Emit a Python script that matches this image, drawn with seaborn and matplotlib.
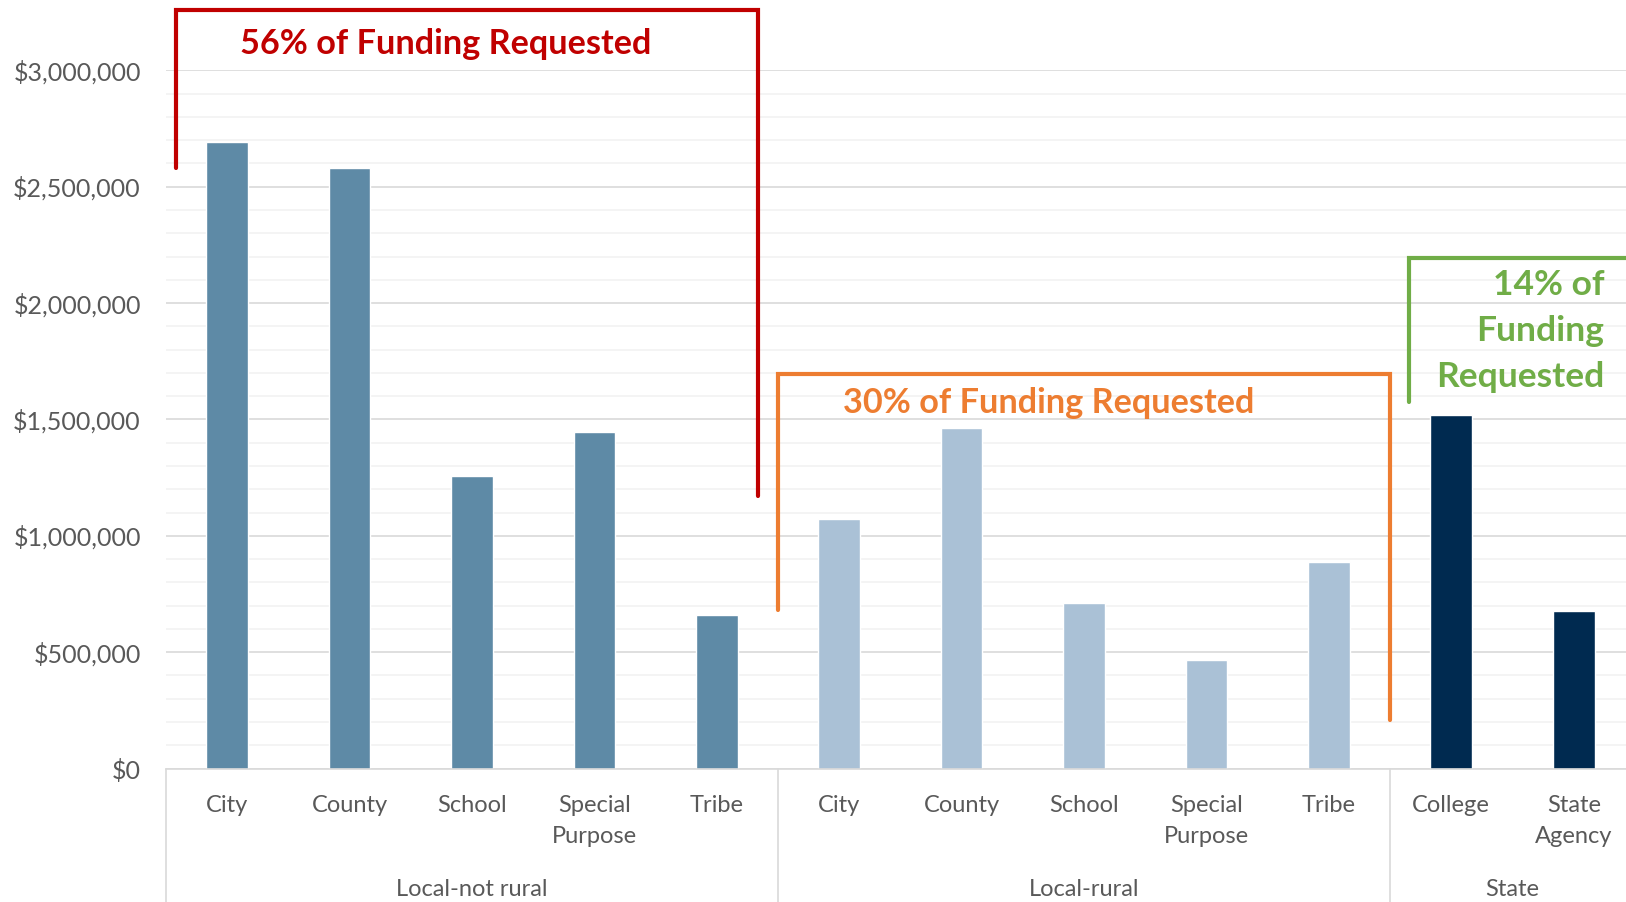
"""
Funding requested by applicant type
"""
import matplotlib.pyplot as plt
import matplotlib.transforms as mtransforms
import seaborn as sns
import pandas as pd
from matplotlib.ticker import MultipleLocator, FuncFormatter

# data
groups = ["Local-not rural"] * 5 + ["Local-rural"] * 5 + ["State"] * 2
categories = ["City", "County", "School", "Special\nPurpose", "Tribe",
              "City", "County", "School", "Special\nPurpose", "Tribe",
              "College", "State\nAgency"]
funding = [2690000, 2580000, 1257000, 1445000, 660000,
           1070000, 1462000, 713000, 468000, 887000,
           1517000, 678000]
group_names = ["Local-not rural", "Local-rural", "State"]
group_colors = {"Local-not rural": "#5E8AA6", "Local-rural": "#AAC1D6", "State": "#002A50"}

df = pd.DataFrame({"group": groups, "category": categories, "funding": funding})
df["key"] = [f"{g}|{c}" for g, c in zip(groups, categories)]

sns.set_style("white")
plt.rcParams["font.family"] = ["Lato", "DejaVu Sans"]

fig = plt.figure(figsize=(16.26, 9.02), dpi=100)
# plot area runs a little past the right edge, as in the original
ax = fig.add_axes([0.102, 0.148, 0.9035, 0.774])

sns.barplot(data=df, x="key", y="funding", hue="group", palette=group_colors,
            order=list(df["key"]), dodge=False, width=0.34, legend=False,
            saturation=1, ax=ax)

ax.set_xlim(-0.5, 11.5)
ax.set_ylim(0, 3000000)
ax.yaxis.set_major_locator(MultipleLocator(500000))
ax.yaxis.set_minor_locator(MultipleLocator(100000))
ax.yaxis.set_major_formatter(FuncFormatter(lambda v, p: f"${v:,.0f}"))
ax.grid(which="major", axis="y", color="#D9D9D9", lw=1.2)
ax.grid(which="minor", axis="y", color="#F2F2F2", lw=1.2)
ax.set_axisbelow(True)
for s in ["top", "right", "left"]:
    ax.spines[s].set_visible(False)
ax.spines["bottom"].set_color("#D9D9D9")
ax.spines["bottom"].set_linewidth(1.2)
ax.tick_params(axis="y", which="both", length=0, pad=18, labelsize=18, labelcolor="#595959")
ax.set_xticks(range(len(categories)))
ax.set_xticklabels(categories, fontsize=17, color="#595959", linespacing=1.6)
ax.tick_params(axis="x", length=0, pad=19)
ax.set_xlabel("")
ax.set_ylabel("")

# group labels and separators under the axis
trans = mtransforms.blended_transform_factory(ax.transData, ax.transAxes)
for g in group_names:
    idx = [i for i, x in enumerate(groups) if x == g]
    ax.text((idx[0] + idx[-1]) / 2, -0.173, g, transform=trans, ha="center", va="center",
            fontsize=17, color="#595959")
for xs in [-0.5, 4.5, 9.5]:
    ax.plot([xs, xs], [0, -0.2], transform=trans, color="#D9D9D9", lw=1.2, clip_on=False)

# brackets with funding shares
ax.plot([-0.415, -0.415, 4.335, 4.335], [2581000, 3258000, 3258000, 1172000],
        color="#C00000", lw=3, clip_on=False, solid_joinstyle="miter")
ax.text(1.786, 3115000, "56% of Funding Requested", ha="center", va="center",
        fontsize=24.7, fontweight="bold", color="#C00000")
ax.plot([4.504, 4.504, 9.5, 9.5], [682000, 1694000, 1694000, 209000],
        color="#ED7D31", lw=3, clip_on=False, solid_joinstyle="miter")
ax.text(6.714, 1570000, "30% of Funding Requested", ha="center", va="center",
        fontsize=24.7, fontweight="bold", color="#ED7D31")
ax.plot([9.652, 9.652, 11.6], [1574000, 2193000, 2193000],
        color="#70AD47", lw=3, clip_on=False, solid_joinstyle="miter")
ax.text(11.25, 1880000, "14% of\nFunding\nRequested", ha="right", va="center",
        fontsize=25.5, fontweight="bold", color="#70AD47", linespacing=1.55)

plt.savefig("out.png", dpi=100)
